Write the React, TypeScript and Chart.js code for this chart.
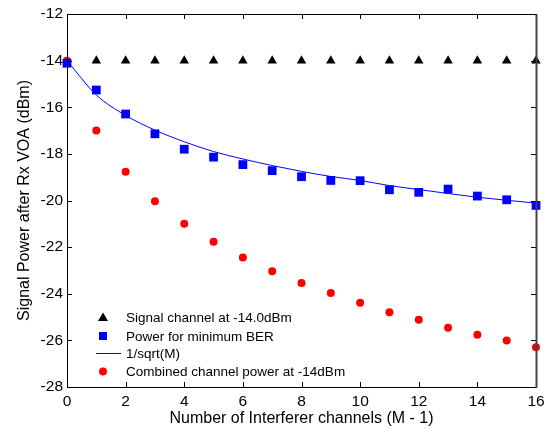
import { useEffect, useRef } from "react";
import { Chart, registerables } from "chart.js";

Chart.register(...registerables);

const interfererChannels = [0, 1, 2, 3, 4, 5, 6, 7, 8, 9, 10, 11, 12, 13, 14, 15, 16];
const signalChannel = [null, -14, -14, -14, -14, -14, -14, -14, -14, -14, -14, -14, -14, -14, -14, -14, -14];
const powerMinBER = [-14.11, -15.26, -16.29, -17.14, -17.8, -18.14, -18.46, -18.72, -18.98, -19.14, -19.15, -19.54, -19.65, -19.51, -19.81, -19.97, -20.21];
const sqrtFit = [-14.0, -15.47, -16.35, -16.98, -17.48, -17.9, -18.22, -18.5, -18.75, -18.97, -19.14, -19.36, -19.53, -19.7, -19.86, -19.99, -20.11];
const combinedPower = [-14.01, -17.0, -18.77, -20.03, -21.0, -21.77, -22.44, -23.03, -23.54, -23.97, -24.39, -24.79, -25.12, -25.46, -25.76, -26.0, -26.3];

const legendLabels = [
  "Signal channel at -14.0dBm",
  "Power for minimum BER",
  "1/sqrt(M)",
  "Combined channel power at -14dBm",
];

const FONT = "'Liberation Sans', Arial, sans-serif";

const toXY = (ys: (number | null)[]) =>
  ys
    .map((y, i) => (y === null ? null : { x: interfererChannels[i], y }))
    .filter((p) => p !== null) as { x: number; y: number }[];

function drawFrame(chart: any) {
  const { ctx, chartArea } = chart;
  const { left, right, top, bottom } = chartArea;
  const xs = chart.scales.x;
  const ys = chart.scales.y;
  ctx.save();
  ctx.strokeStyle = "#000000";
  ctx.lineWidth = 1;
  ctx.beginPath();
  const tl = 5;
  xs.ticks.forEach((t: any) => {
    const px = Math.round(xs.getPixelForValue(t.value)) + 0.5;
    ctx.moveTo(px, bottom);
    ctx.lineTo(px, bottom - tl);
    ctx.moveTo(px, top);
    ctx.lineTo(px, top + tl);
  });
  ys.ticks.forEach((t: any) => {
    const py = Math.round(ys.getPixelForValue(t.value)) + 0.5;
    ctx.moveTo(left, py);
    ctx.lineTo(left + tl, py);
    ctx.moveTo(right, py);
    ctx.lineTo(right - tl, py);
  });
  const l = Math.round(left) + 0.5;
  const r = Math.round(right) + 0.5;
  const t = Math.round(top) + 0.5;
  const b = Math.round(bottom) + 0.5;
  ctx.moveTo(l, t);
  ctx.lineTo(r, t);
  ctx.lineTo(r, b);
  ctx.lineTo(l, b);
  ctx.closePath();
  ctx.stroke();
  ctx.strokeStyle = "#444444";
  ctx.lineWidth = 2;
  ctx.beginPath();
  ctx.moveTo(r, t);
  ctx.lineTo(r, b);
  ctx.stroke();
  ctx.restore();
}

function drawLegend(chart: any) {
  const { ctx, chartArea } = chart;
  const mx = chartArea.left + 36;
  const tx = chartArea.left + 59;
  const rowY = [chartArea.bottom - 69.5, chartArea.bottom - 51, chartArea.bottom - 33.5, chartArea.bottom - 15.5];
  ctx.save();
  ctx.font = `13.5px ${FONT}`;
  ctx.textAlign = "left";
  ctx.textBaseline = "middle";
  chart.data.datasets.forEach((ds: any, i: number) => {
    const y = rowY[i];
    if (ds.showLine) {
      ctx.strokeStyle = ds.borderColor;
      ctx.lineWidth = ds.borderWidth;
      ctx.beginPath();
      ctx.moveTo(mx - 7, y);
      ctx.lineTo(mx + 18, y);
      ctx.stroke();
    } else {
      ctx.fillStyle = ds.backgroundColor;
      ctx.beginPath();
      if (ds.pointStyle === "triangle") {
        ctx.moveTo(mx, y - 5);
        ctx.lineTo(mx + 5, y + 3.5);
        ctx.lineTo(mx - 5, y + 3.5);
        ctx.closePath();
      } else if (ds.pointStyle === "rect") {
        ctx.rect(mx - 4, y - 4, 8, 8);
      } else {
        ctx.arc(mx, y, 4, 0, Math.PI * 2);
      }
      ctx.fill();
    }
    ctx.fillStyle = "#000000";
    ctx.fillText(legendLabels[i], tx, y + 1);
  });
  ctx.restore();
}

const framePlugin = {
  id: "frameAndLegend",
  afterDraw(chart: any) {
    drawFrame(chart);
    drawLegend(chart);
  },
};

export default function App() {
  const ref = useRef<HTMLCanvasElement | null>(null);

  useEffect(() => {
    document.body.style.margin = "0";
    if (!ref.current) return;
    const chart = new Chart(ref.current, {
      type: "scatter",
      data: {
        datasets: [
          {
            label: legendLabels[0],
            data: toXY(signalChannel),
            pointStyle: "triangle",
            pointRadius: 5.5,
            backgroundColor: "#000000",
            borderColor: "#000000",
            borderWidth: 0,
            showLine: false,
            clip: false,
          },
          {
            label: legendLabels[1],
            data: toXY(powerMinBER),
            pointStyle: "rect",
            pointRadius: 6.2,
            backgroundColor: "#0000ff",
            borderColor: "#0000ff",
            borderWidth: 0,
            showLine: false,
            clip: false,
          },
          {
            label: legendLabels[2],
            data: toXY(sqrtFit),
            showLine: true,
            pointRadius: 0,
            borderColor: "#0000ff",
            backgroundColor: "#0000ff",
            borderWidth: 1,
            cubicInterpolationMode: "monotone",
            clip: false,
          },
          {
            label: legendLabels[3],
            data: toXY(combinedPower),
            pointStyle: "circle",
            pointRadius: 4,
            backgroundColor: "#ff0000",
            borderColor: "#ff0000",
            borderWidth: 0,
            showLine: false,
            clip: false,
          },
        ],
      },
      options: {
        animation: false,
        responsive: false,
        devicePixelRatio: 1,
        layout: { padding: { left: 0, right: 10, top: 14, bottom: 0 } },
        plugins: { legend: { display: false }, tooltip: { enabled: false } },
        scales: {
          x: {
            type: "linear",
            min: 0,
            max: 16,
            grid: { display: false, drawTicks: false },
            border: { display: false },
            ticks: { stepSize: 2, padding: 5, color: "#000", font: { family: FONT, size: 15.5 } },
            title: {
              display: true,
              text: "Number of Interferer channels (M - 1)",
              color: "#000",
              font: { family: FONT, size: 16 },
              padding: { top: 0, bottom: 0 },
            },
            afterFit: (s: any) => {
              s.height = 41;
              s.paddingLeft = 0;
              s.paddingRight = 0;
            },
          },
          y: {
            type: "linear",
            min: -28,
            max: -12,
            grid: { display: false, drawTicks: false },
            border: { display: false },
            ticks: { stepSize: 2, padding: 4, color: "#000", font: { family: FONT, size: 15.5 } },
            title: {
              display: true,
              text: "Signal Power after Rx VOA (dBm)",
              color: "#000",
              font: { family: FONT, size: 16 },
              padding: { top: 15, bottom: 0 },
            },
            afterFit: (s: any) => {
              s.width = 67;
              s.paddingTop = 0;
              s.paddingBottom = 0;
            },
          },
        },
      },
      plugins: [framePlugin],
    });
    return () => chart.destroy();
  }, []);

  return (
    <div style={{ position: "absolute", left: 0, top: 0, width: 546, height: 428, background: "#fff" }}>
      <canvas ref={ref} width={546} height={428} style={{ width: 546, height: 428 }} />
    </div>
  );
}
